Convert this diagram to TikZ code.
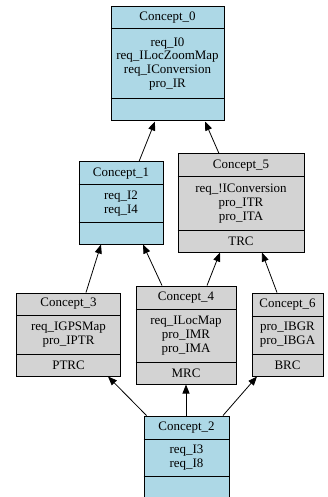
\documentclass[tikz,border=0pt]{standalone}
\usepackage{fontspec}
\setmainfont{Liberation Serif}
\usetikzlibrary{arrows.meta}
\definecolor{lb}{HTML}{ADD8E6}
\definecolor{lg}{HTML}{D3D3D3}
\tikzset{
  box/.style={draw=black, line width=1bp, inner sep=0pt, rectangle},
  sep/.style={draw=black, line width=1bp},
  txt/.style={inner sep=0pt, align=center, font=\fontsize{13}{14}\selectfont},
  arr/.style={draw=black, line width=0.8bp, -{Triangle[length=9bp,width=7bp]}}
}
\begin{document}
\begin{tikzpicture}[x=1bp,y=-1bp]
\useasboundingbox (0,0) rectangle (327,497);
% boxes
\node[box, fill=lb, minimum width=113bp, minimum height=114bp] (c0) at (167.5,64) {};
\node[box, fill=lb, minimum width=84bp, minimum height=82bp] (c1) at (121,203) {};
\node[box, fill=lg, minimum width=126bp, minimum height=98bp] (c5) at (241,203) {};
\node[box, fill=lg, minimum width=103bp, minimum height=83bp] (c3) at (68.5,334.5) {};
\node[box, fill=lg, minimum width=100bp, minimum height=98bp] (c4) at (186,335) {};
\node[box, fill=lg, minimum width=71bp, minimum height=83bp] (c6) at (287.5,334.5) {};
\node[box, fill=lb, minimum width=85bp, minimum height=82bp] (c2) at (186.5,457) {};
% separators
\foreach \n/\a/\b in {c0/29/99, c1/185/222, c5/177/230, c3/315/354, c4/309/362, c6/316/354, c2/439/476}{
  \draw[sep] (\n.west |- 0,\a) -- (\n.east |- 0,\a);
  \draw[sep] (\n.west |- 0,\b) -- (\n.east |- 0,\b);
}
% texts
\node[txt] (t0) at (167.5,18) {Concept\_0};
\node[txt] (b0) at (167.5,64) {req\_I0\\req\_ILocZoomMap\\req\_IConversion\\pro\_IR};
\node[txt] (t1) at (121,173.5) {Concept\_1};
\node[txt] (b1) at (121,203.5) {req\_I2\\req\_I4};
\node[txt] (t5) at (241,165.5) {Concept\_5};
\node[txt] (b5) at (241,203.5) {req\_!IConversion\\pro\_ITR\\pro\_ITA};
\node[txt] (f5) at (241,241) {TRC};
\node[txt] (t3) at (68.5,304) {Concept\_3};
\node[txt] (b3) at (68.5,334.5) {req\_IGPSMap\\pro\_IPTR};
\node[txt] (f3) at (68.5,365) {PTRC};
\node[txt] (t4) at (186,297.5) {Concept\_4};
\node[txt] (b4) at (186,335.5) {req\_ILocMap\\pro\_IMR\\pro\_IMA};
\node[txt] (f4) at (186,373) {MRC};
\node[txt] (t6) at (287.5,304.5) {Concept\_6};
\node[txt] (b6) at (287.5,335) {pro\_IBGR\\pro\_IBGA};
\node[txt] (f6) at (287.5,365) {BRC};
\node[txt] (t2) at (186.5,427.5) {Concept\_2};
\node[txt] (b2) at (186.5,457.5) {req\_I3\\req\_I8};
% edges
\draw[arr] ([xshift=18bp]c1.north) -- ([xshift=-12.5bp]c0.south);
\draw[arr] ([xshift=-22bp]c5.north) -- ([xshift=37.5bp]c0.south);
\draw[arr] ([xshift=17.5bp]c3.north) -- ([xshift=-20bp]c1.south);
\draw[arr] ([xshift=-24bp]c4.north) -- ([xshift=22bp]c1.south);
\draw[arr] ([xshift=21bp]c4.north) -- ([xshift=-21bp]c5.south);
\draw[arr] ([xshift=-10.5bp]c6.north) -- ([xshift=21bp]c5.south);
\draw[arr] ([xshift=-40bp]c2.north) -- ([xshift=39.5bp]c3.south);
\draw[arr] ([xshift=-0.5bp]c2.north) -- ([xshift=0bp]c4.south);
\draw[arr] ([xshift=36.5bp]c2.north) -- ([xshift=-30.5bp]c6.south);
\end{tikzpicture}
\end{document}
